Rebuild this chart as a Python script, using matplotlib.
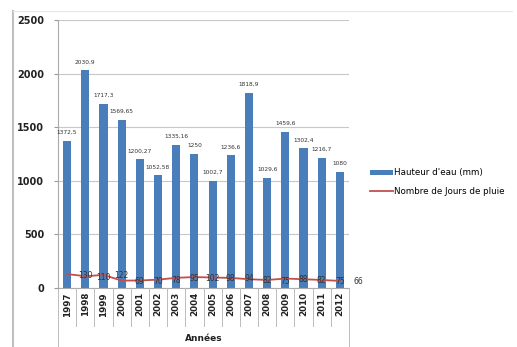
import matplotlib.pyplot as plt
from matplotlib.lines import Line2D
import numpy as np

# Données
annees = ['1997', '1998', '1999', '2000', '2001', '2002', '2003', '2004',
          '2005', '2006', '2007', '2008', '2009', '2010', '2011', '2012']
hauteur = [1372.5, 2030.9, 1717.3, 1569.65, 1200.27, 1052.58, 1335.16, 1250,
           1002.7, 1236.6, 1818.9, 1029.6, 1459.6, 1302.4, 1216.7, 1080]
hauteur_txt = ['1372,5', '2030,9', '1717,3', '1569,65', '1200,27', '1052,58', '1335,16', '1250',
               '1002,7', '1236,6', '1818,9', '1029,6', '1459,6', '1302,4', '1216,7', '1080']
jours = [130, 110, 122, 69, 70, 78, 95, 102, 98, 94, 82, 75, 88, 82, 75, 66]

W, H = 517, 347
fig = plt.figure(figsize=(W / 100, H / 100), dpi=100)
ax = fig.add_axes([58 / W, 1 - 288 / H, (349 - 58) / W, (288 - 20) / H])

x = np.arange(len(annees))
bleu = '#4a7ebb'
rouge = '#c0504d'

barres = ax.bar(x, hauteur, width=0.45, color=bleu, zorder=2)
ligne, = ax.plot(x, jours, color=rouge, lw=1.3, zorder=3)

for i, v in enumerate(hauteur):
    ax.text(x[i], v + 55, hauteur_txt[i], ha='center', va='bottom', fontsize=4.2, color='#333333')
# étiquettes de la courbe décalées d'une catégorie (comme dans l'original)
for i, v in enumerate(jours):
    ax.text(x[i] + 1, v - 10, str(v), ha='center', va='center', fontsize=5.5, color='#333333', zorder=4)

ax.set_xlim(-0.5, len(annees) - 0.5)
ax.set_ylim(0, 2500)
ax.set_yticks(range(0, 2501, 500))
ax.tick_params(axis='y', labelsize=7, length=3, color='#999999', pad=7)
for t in ax.get_yticklabels():
    t.set_fontweight('bold')
    t.set_color('#222222')
ax.set_xticks([])
ax.grid(axis='y', color='#c8c8c8', lw=0.8, zorder=0)
for s in ['top', 'right', 'bottom']:
    ax.spines[s].set_visible(False)
ax.spines['left'].set_color('#aaaaaa')

# tableau des catégories sous l'axe
trans = ax.get_xaxis_transform()
ax.plot([-0.5, len(annees) - 0.5], [0, 0], color='#aaaaaa', lw=0.8, transform=trans, clip_on=False)
for i in range(len(annees) + 1):
    bas = -0.58 if i in (0, len(annees)) else -0.14
    ax.plot([i - 0.5, i - 0.5], [0, bas], color='#bbbbbb', lw=0.7, transform=trans, clip_on=False)
for i, a in enumerate(annees):
    ax.text(i, -0.015, a, rotation=90, ha='center', va='top', fontsize=6.3,
            fontweight='bold', color='#222222', transform=trans)
ax.text((len(annees) - 1) / 2, -0.19, 'Années', ha='center', va='center', fontsize=6.5,
        fontweight='bold', color='#222222', transform=trans)

fig.legend([barres, ligne], ["Hauteur d'eau (mm)", 'Nombre de Jours de pluie'],
           loc='center left', bbox_to_anchor=(362 / W, 1 - 182 / H), frameon=False,
           fontsize=6.3, handlelength=2.6, handleheight=0.5, labelspacing=1.1, handletextpad=0.2)

# cadre extérieur
fig.add_artist(Line2D([13 / W, 13 / W], [0, 1 - 11 / H], color='#c0c0c0', lw=1.5))
fig.add_artist(Line2D([13 / W, 512 / W], [1 - 11 / H, 1 - 11 / H], color='#e6e6e6', lw=0.8))

plt.savefig('out.png', dpi=100)
